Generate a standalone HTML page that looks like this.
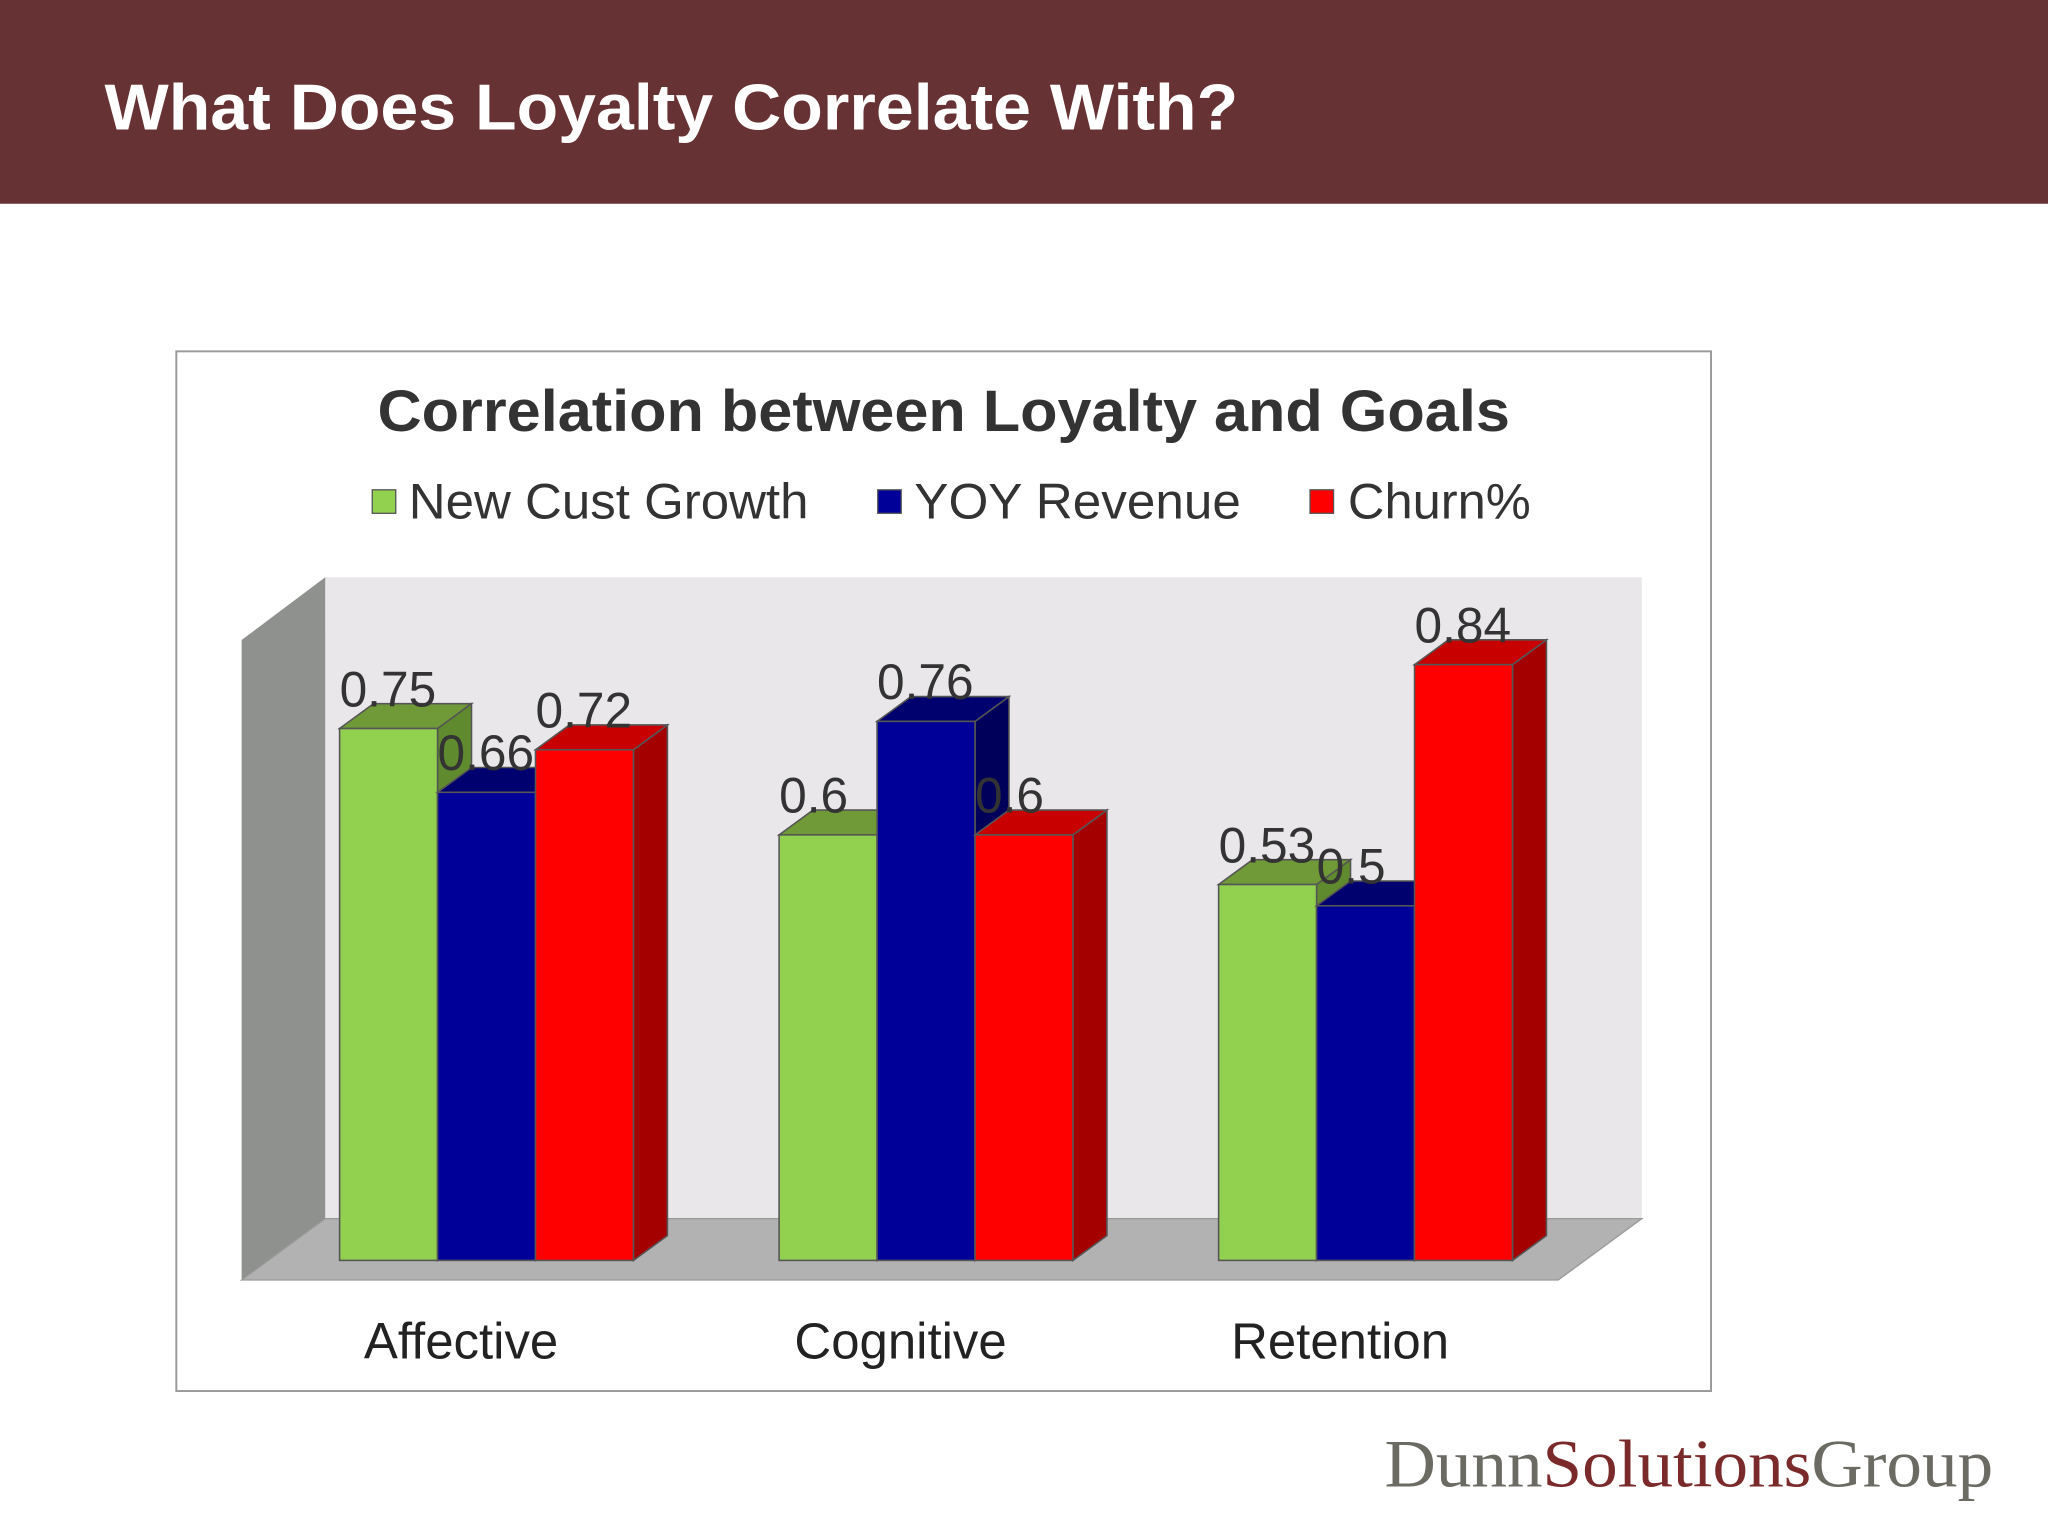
<!DOCTYPE html>
<html><head><meta charset="utf-8"><style>
html,body{margin:0;padding:0;background:#fff;}
svg{display:block;}
text{font-family:"Liberation Sans",sans-serif;}
</style></head><body>
<svg id="c" width="2048" height="1536" viewBox="0 0 1568 1176" xmlns="http://www.w3.org/2000/svg">
<rect x="0" y="0" width="1568" height="156" fill="#673233"/>
<text x="80" y="99" font-size="50" font-weight="bold" fill="#fff" textLength="868" lengthAdjust="spacingAndGlyphs">What Does Loyalty Correlate With?</text>
<rect x="135" y="269" width="1175" height="796" fill="#fff" stroke="#9a9a9a" stroke-width="1.5"/>
<text x="289" y="330" font-size="45" font-weight="bold" fill="#333" textLength="867" lengthAdjust="spacingAndGlyphs">Correlation between Loyalty and Goals</text>
<g>
<rect x="285" y="375" width="18" height="18" fill="#92d050" stroke="#555"/>
<text x="313" y="397" font-size="38" fill="#333" textLength="306" lengthAdjust="spacingAndGlyphs">New Cust Growth</text>
<rect x="672" y="375" width="18" height="18" fill="#000099" stroke="#555"/>
<text x="700" y="397" font-size="38" fill="#333" textLength="250" lengthAdjust="spacingAndGlyphs">YOY Revenue</text>
<rect x="1003" y="375" width="18" height="18" fill="#ff0000" stroke="#555"/>
<text x="1032" y="397" font-size="38" fill="#333" textLength="140" lengthAdjust="spacingAndGlyphs">Churn%</text>
</g>
<polygon points="249,442 1257,442 1257,933 249,933" fill="#e9e7ea"/>
<polygon points="185,490 249,442 249,933 185,980" fill="#8f918f"/>
<polygon points="185,980 249,933 1257,933 1193,980" fill="#b3b2b3" stroke="#999"/>
<g id="bars"></g>
<text x="1060" y="1138" font-size="52" fill="#6b6b63" style="font-family:'Liberation Serif',serif" textLength="466" lengthAdjust="spacingAndGlyphs">Dunn<tspan fill="#7a2a2a">Solutions</tspan>Group</text>
</svg>
<script>
const categories = ["Affective", "Cognitive", "Retention"];
const seriesNames = ["New Cust Growth", "YOY Revenue", "Churn%"];
const newCust = [0.75, 0.6, 0.53];
const yoyRev = [0.66, 0.76, 0.5];
const churn = [0.72, 0.6, 0.84];
const labels = [["0.75","0.66","0.72"],["0.6","0.76","0.6"],["0.53","0.5","0.84"]];
const series = [newCust, yoyRev, churn];
const fronts = ["#92d050", "#000099", "#ff0000"];
const tops = ["#6f9a37", "#00006e", "#c80000"];
const sides = ["#5f8a2e", "#00005a", "#a50000"];
const NS = "http://www.w3.org/2000/svg";
const g = document.getElementById("bars");
const zeroY = 965, scale = 543, barW = 75, dx = 26, dy = -19;
function xPos(ci, si){ return 260 + ci*336.5 + si*barW; }
function yPos(v){ return zeroY - v*scale; }
function mk(tag, attrs){ const e=document.createElementNS(NS,tag); for(const k in attrs) e.setAttribute(k, attrs[k]); g.appendChild(e); return e; }
categories.forEach((cat, ci) => {
  series.forEach((s, si) => {
    const x = xPos(ci, si), y = yPos(s[ci]);
    const side = mk("polygon", {points:`${x+barW},${y} ${x+barW+dx},${y+dy} ${x+barW+dx},${zeroY+dy} ${x+barW},${zeroY}`, fill:sides[si], stroke:"#555", "stroke-width":1.2});
    
    
    const top = mk("polygon", {points:`${x},${y} ${x+dx},${y+dy} ${x+barW+dx},${y+dy} ${x+barW},${y}`, fill:tops[si], stroke:"#555", "stroke-width":1.2});
    
    
    const r = mk("rect", {x:x, y:y, width:barW, height:zeroY-y, fill:fronts[si], stroke:"#555", "stroke-width":1.2});
    
    
  });
  series.forEach((s, si) => {
    const x = xPos(ci, si), y = yPos(s[ci]);
    const t = mk("text", {x:x, y:y-17, "font-size":38, fill:"#333"});
    t.textContent = labels[ci][si];
    
    
  });
  const ct = mk("text", {x:xPos(ci,0)+93, y:1040, "font-size":39, fill:"#222", "text-anchor":"middle"});
  ct.textContent = cat;
  
  
});
</script>
</body></html>
